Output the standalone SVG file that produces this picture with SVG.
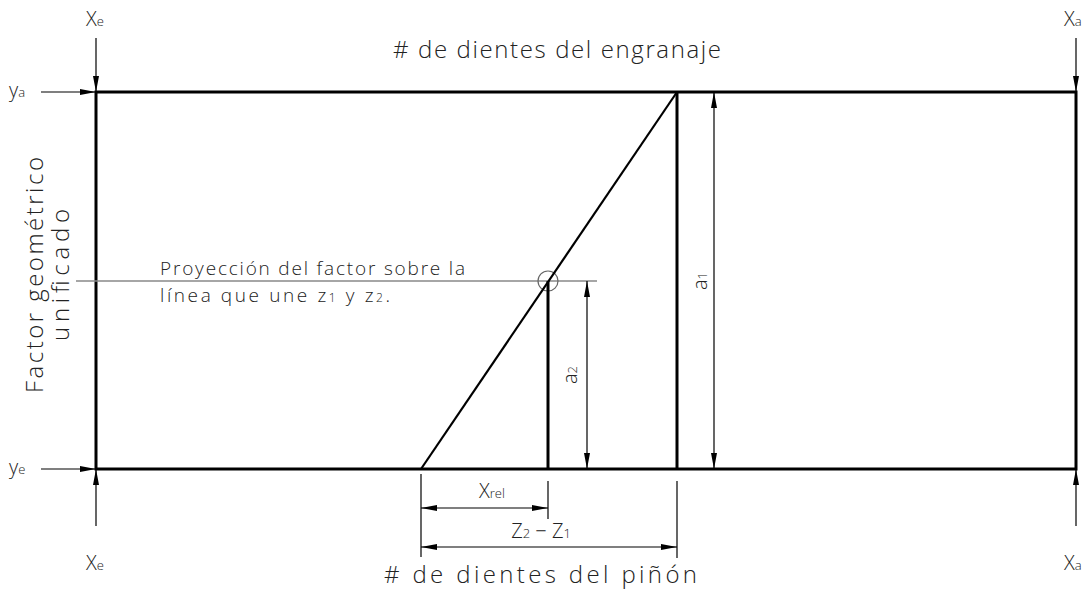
<svg xmlns="http://www.w3.org/2000/svg" width="1088" height="601" viewBox="0 0 1088 601">
<style>
text{font-family:"Open Sans","DejaVu Sans","Liberation Sans",sans-serif;fill:#222;font-weight:300}
.thick{stroke:#000;stroke-width:3;fill:none}
.thin{stroke:#000;stroke-width:1.2;fill:none}
.big{font-size:24px}
.lab{font-size:20px}
.sub{font-size:13px}
</style>
<defs>
<marker id="ah" viewBox="0 0 16 6" refX="16" refY="3" markerWidth="16" markerHeight="6" markerUnits="userSpaceOnUse" orient="auto-start-reverse">
<path d="M0,0 L16,3 L0,6 Z" fill="#000"/>
</marker>
</defs>
<rect width="1088" height="601" fill="#fff"/>
<g id="frame">
<rect x="96" y="92" width="980" height="377" class="thick"/>
</g>
<g id="projection-line">
<line x1="76" y1="281" x2="597" y2="281" stroke="#888" stroke-width="1.5"/>
<circle cx="548" cy="281" r="10" fill="none" stroke="#666" stroke-width="1.2"/>
</g>
<g id="geometry">
<line x1="421" y1="469" x2="677" y2="92" stroke="#000" stroke-width="2.2"/>
<line x1="548" y1="281" x2="548" y2="469" class="thick"/>
<line x1="677" y1="92" x2="677" y2="469" class="thick"/>
</g>
<g id="connectors">
<line x1="96" y1="38" x2="96" y2="92" class="thin" marker-end="url(#ah)"/>
<line x1="1076" y1="38" x2="1076" y2="92" class="thin" marker-end="url(#ah)"/>
<line x1="41" y1="92" x2="96" y2="92" class="thin" marker-end="url(#ah)"/>
<line x1="41" y1="469" x2="96" y2="469" class="thin" marker-end="url(#ah)"/>
<line x1="96" y1="526" x2="96" y2="469" class="thin" marker-end="url(#ah)"/>
<line x1="1076" y1="526" x2="1076" y2="469" class="thin" marker-end="url(#ah)"/>
<line x1="587" y1="281" x2="587" y2="469" class="thin" marker-start="url(#ah)" marker-end="url(#ah)"/>
<line x1="714" y1="92" x2="714" y2="469" class="thin" marker-start="url(#ah)" marker-end="url(#ah)"/>
<line x1="421" y1="474" x2="421" y2="557" class="thin"/>
<line x1="548" y1="481" x2="548" y2="519" class="thin"/>
<line x1="677" y1="481" x2="677" y2="558" class="thin"/>
<line x1="421" y1="508" x2="548" y2="508" class="thin" marker-start="url(#ah)" marker-end="url(#ah)"/>
<line x1="421" y1="547" x2="677" y2="547" class="thin" marker-start="url(#ah)" marker-end="url(#ah)"/>
</g>
<g id="labels">
<text x="393" y="58" class="big" textLength="328" lengthAdjust="spacing"># de dientes del engranaje</text>
<text x="384" y="583" class="big" textLength="313" lengthAdjust="spacing"># de dientes del piñón</text>
<g transform="translate(43,275) rotate(-90)">
<text x="-118" y="0" class="big" textLength="236" lengthAdjust="spacing">Factor geométrico</text>
<text x="-66" y="26" class="big" textLength="132" lengthAdjust="spacing">unificado</text>
</g>
<text x="160" y="275" font-size="19" textLength="305" lengthAdjust="spacing">Proyección del factor sobre la</text>
<text x="160" y="302" font-size="19" textLength="230" lengthAdjust="spacing">línea que une z<tspan font-size="12">1</tspan> y z<tspan font-size="12">2</tspan>.</text>
<text x="86" y="26" class="lab">X<tspan class="sub">e</tspan></text>
<text x="1064" y="26" class="lab">X<tspan class="sub">a</tspan></text>
<text x="86" y="570" class="lab">X<tspan class="sub">e</tspan></text>
<text x="1064" y="570" class="lab">X<tspan class="sub">a</tspan></text>
<text x="9" y="97" class="lab">y<tspan class="sub">a</tspan></text>
<text x="9" y="474" class="lab">y<tspan class="sub">e</tspan></text>
<text x="492" y="498" class="lab" text-anchor="middle">X<tspan class="sub">rel</tspan></text>
<text x="541" y="538" class="lab" text-anchor="middle">Z<tspan class="sub">2</tspan> − Z<tspan class="sub">1</tspan></text>
<text transform="translate(577,375) rotate(-90)" class="lab" text-anchor="middle">a<tspan class="sub">2</tspan></text>
<text transform="translate(707,281) rotate(-90)" class="lab" text-anchor="middle">a<tspan class="sub">1</tspan></text>
</g>
</svg>
